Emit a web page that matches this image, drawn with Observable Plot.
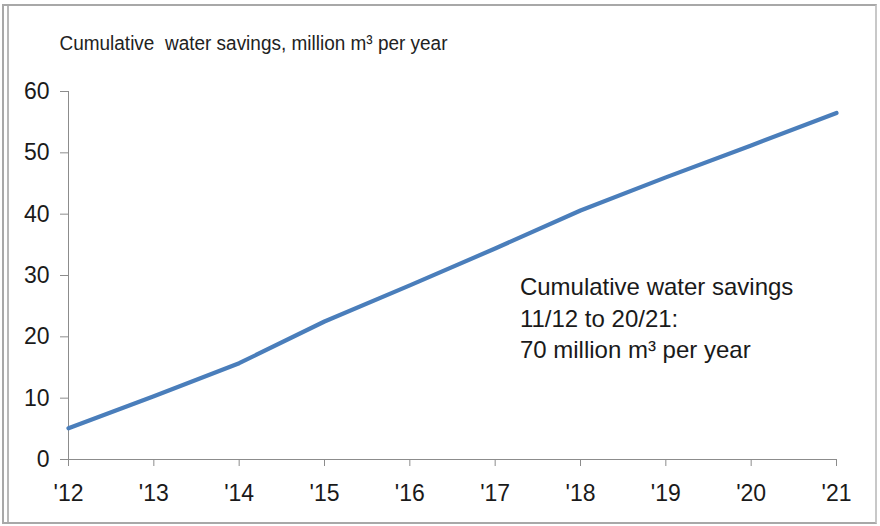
<!DOCTYPE html>
<html>
<head>
<meta charset="utf-8">
<script src="https://cdn.jsdelivr.net/npm/d3@7"></script>
<script src="https://cdn.jsdelivr.net/npm/@observablehq/plot@0.6"></script>
<style>
  html, body { margin: 0; padding: 0; background: #fff; }
  #wrap { position: relative; width: 880px; height: 526px; overflow: hidden; }
  #frame {
    position: absolute; left: 2px; top: 4px; width: 871px; height: 516px;
    border: 2px solid #a8a8a8; border-right-color: #c8c8c8;
    box-shadow: inset 3px 0 0 #fff, inset 5px 0 0 #b8b8b8;
    pointer-events: none;
  }
</style>
</head>
<body>
<div id="wrap"><div id="frame"></div></div>
<script>
// Fiscal years (end year) and cumulative water savings, million m³ per year
const years = [2012, 2013, 2014, 2015, 2016, 2017, 2018, 2019, 2020, 2021];
const savings = [5.1, 10.3, 15.7, 22.5, 28.4, 34.4, 40.6, 46.0, 51.2, 56.5];
const yTicks = [0, 10, 20, 30, 40, 50, 60];
const xTickLabels = ["'12", "'13", "'14", "'15", "'16", "'17", "'18", "'19", "'20", "'21"];

const title = "Cumulative  water savings, million m³ per year";
const note = "Cumulative water savings\n11/12 to 20/21:\n70 million m³ per year";

const data = years.map((year, i) => ({year, value: savings[i]}));

const font = "'Liberation Sans', Arial, sans-serif";
const axisGray = "#8c8c8c";

const chart = Plot.plot({
  width: 880,
  height: 526,
  marginLeft: 68,
  marginRight: 44,
  marginTop: 91,
  marginBottom: 67,
  style: {fontFamily: font, fontSize: "23px", color: "#1a1a1a", background: "transparent", overflow: "visible"},
  x: {domain: [2012, 2021], label: null},
  y: {domain: [0, 60], label: null},
  marks: [
    Plot.axisY({ticks: yTicks, tickSize: 8, tickPadding: 11, stroke: axisGray, fontSize: 23}),
    Plot.axisX({ticks: years, tickFormat: d => xTickLabels[years.indexOf(d)], tickSize: 7, tickPadding: 18, stroke: axisGray, fontSize: 23}),
    Plot.ruleX([2012], {stroke: axisGray}),
    Plot.ruleY([0], {stroke: axisGray}),
    Plot.line(data, {x: "year", y: "value", stroke: "#4a7ebb", strokeWidth: 4.2, curve: "linear"}),
    Plot.text([note], {
      x: 2017.29, y: 23.3, text: d => d, textAnchor: "start", lineAnchor: "middle",
      lineHeight: 1.3, fontSize: 24, fill: "#1a1a1a"
    }),
    Plot.text([title], {
      frameAnchor: "top-left", dx: -9, dy: -48, text: d => d, textAnchor: "start",
      lineAnchor: "middle", fontSize: 20, fill: "#222", className: "chart-title"
    })
  ]
});

document.getElementById("wrap").prepend(chart);

// Title is set slightly condensed to its fixed width
d3.select(chart).selectAll(".chart-title text")
  .attr("textLength", 388)
  .attr("lengthAdjust", "spacingAndGlyphs");
</script>
</body>
</html>
